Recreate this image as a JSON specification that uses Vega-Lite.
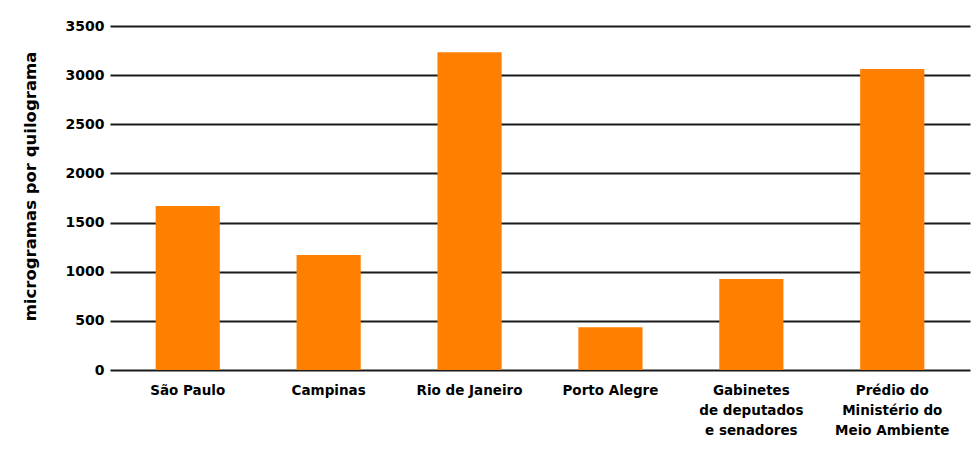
{
  "$schema": "https://vega.github.io/schema/vega-lite/v6.json",
  "autosize": "none",
  "width": 860,
  "height": 344,
  "padding": {"left": 110, "top": 26, "right": 2, "bottom": 81},
  "background": "white",
  "data": {
    "values": [
      {"local": "São Paulo", "valor": 1668},
      {"local": "Campinas", "valor": 1170},
      {"local": "Rio de Janeiro", "valor": 3232},
      {"local": "Porto Alegre", "valor": 434},
      {"local": "Gabinetes|de deputados|e senadores", "valor": 926},
      {"local": "Prédio do|Ministério do|Meio Ambiente", "valor": 3062}
    ]
  },
  "config": {
    "view": {"stroke": null},
    "font": "DejaVu Sans"
  },
  "mark": {"type": "bar", "color": "#ff7f00"},
  "encoding": {
    "x": {
      "field": "local",
      "type": "nominal",
      "sort": null,
      "scale": {"paddingInner": 0.5445, "paddingOuter": 0.324},
      "axis": {
        "title": null,
        "labelAngle": 0,
        "labelExpr": "split(datum.label, '|')",
        "labelFont": "DejaVu Sans",
        "labelFontWeight": "bold",
        "labelFontSize": 13.5,
        "labelColor": "black",
        "labelLineHeight": 20,
        "labelPadding": 13,
        "ticks": false,
        "domain": false,
        "grid": false
      }
    },
    "y": {
      "field": "valor",
      "type": "quantitative",
      "scale": {"domain": [0, 3500], "nice": false},
      "axis": {
        "title": "microgramas por quilograma",
        "titleFont": "DejaVu Sans",
        "titleFontWeight": "bold",
        "titleFontSize": 16.5,
        "titleColor": "black",
        "titleX": -80,
        "titleY": 160,
        "titleAngle": 270,
        "titleAlign": "center",
        "titleBaseline": "middle",
        "values": [0, 500, 1000, 1500, 2000, 2500, 3000, 3500],
        "format": "d",
        "labelFont": "DejaVu Sans",
        "labelFontWeight": "bold",
        "labelFontSize": 14,
        "labelColor": "black",
        "labelPadding": 6,
        "ticks": false,
        "domain": false,
        "grid": true,
        "gridColor": "#1a1a1a",
        "gridWidth": 2,
        "gridOpacity": 1,
        "zindex": 0
      }
    }
  }
}
